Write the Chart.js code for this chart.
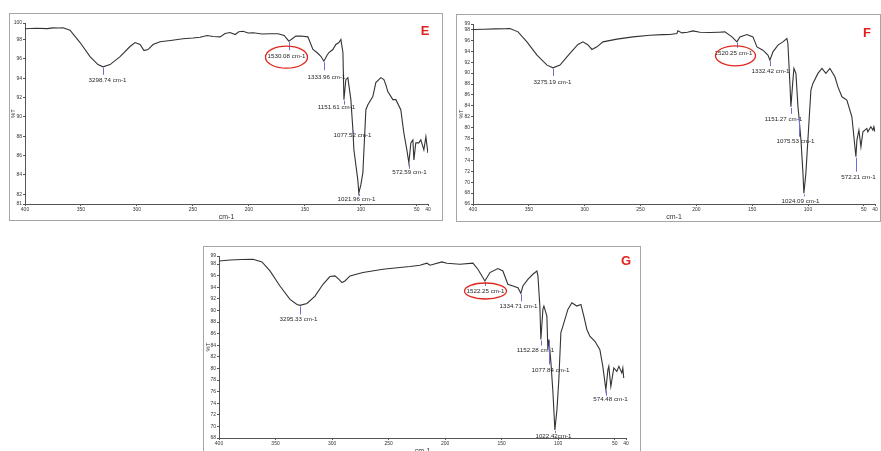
<!DOCTYPE html>
<html>
<head>
<meta charset="utf-8">
<script src="https://cdn.jsdelivr.net/npm/chart.js@4.4.0/dist/chart.umd.min.js"></script>
<style>
body { margin:0; background:#fff; width:881px; height:451px; overflow:hidden; position:relative; font-family:"Liberation Sans", Arial, sans-serif; }
.panel { position:absolute; border:1px solid #a6a6a6; box-sizing:border-box; }
.panel canvas { position:absolute; left:0; top:0; }
</style>
</head>
<body>
<div class="panel" style="left:9px;top:13px;width:434px;height:208px"><canvas id="chartE" width="432" height="207"></canvas></div>
<div class="panel" style="left:456px;top:14px;width:425px;height:208px"><canvas id="chartF" width="423" height="207"></canvas></div>
<div class="panel" style="left:203px;top:246px;width:438px;height:215px"><canvas id="chartG" width="436" height="213"></canvas></div>
<script>
// x axis (cm-1), shared by the three spectra
var xTickValues = [4000, 3500, 3000, 2500, 2000, 1500, 1000, 500, 400];
var xTickLabels = ['400', '350', '300', '250', '200', '150', '100', '50', '40'];

// sample E
var wnE = [4000,3900,3800,3750,3700,3660,3598,3508,3419,3348,3303,3240,3151,3062,3017,2972,2937,2901,2856,2794,2700,2588,2500,2436,2373,2320,2257,2213,2168,2123,2090,2052,2007,1962,1882,1810,1739,1685,1643,1580,1535,1473,1428,1392,1357,1330,1303,1285,1250,1223,1196,1178,1160,1151,1134,1116,1089,1071,1062,1027,1018,1000,982,955,937,893,866,821,794,777,759,714,687,643,616,589,571,553,535,526,509,482,464,437,419,401];
var trE = [99.10,99.15,99.12,99.20,99.18,99.21,98.96,97.68,96.23,95.40,95.17,95.40,96.23,97.27,97.68,97.48,96.85,96.96,97.48,97.76,97.90,98.07,98.15,98.23,98.41,98.30,98.27,98.62,98.72,98.51,98.80,98.85,98.67,98.69,98.56,98.59,98.59,98.41,97.82,98.34,98.36,98.27,96.96,96.65,96.26,95.75,96.34,96.65,96.96,97.48,97.68,97.99,96.65,91.78,93.85,94.06,91.78,88.67,86.60,83.49,82.14,82.97,84.21,90.74,91.26,92.09,93.54,94.06,93.85,93.33,92.61,91.78,91.78,90.74,88.36,86.60,85.25,87.32,87.63,85.56,87.32,87.32,87.63,86.60,87.94,86.28];
var yTicksE = [81, 82, 84, 86, 88, 90, 92, 94, 96, 98, 99.7];
var yLabelsE = ['81', '82', '84', '86', '88', '90', '92', '94', '96', '98', '100'];
var peakWnE = [3303, 1643, 1330, 1151, 1071, 1018, 571];
var peakTrE = [95.17, 97.82, 95.75, 91.78, 88.67, 82.14, 85.25];
var peakTextE = ['3298.74 cm-1', '1530.08 cm-1', '1333.96 cm-1', '1151.61 cm-1', '1077.52 cm-1', '1021.96 cm-1', '572.59 cm-1'];

// sample F
var wnF = [4000,3900,3800,3700,3669,3597,3517,3427,3337,3284,3221,3132,3060,3015,2970,2935,2890,2836,2711,2568,2415,2300,2236,2174,2165,2129,2080,2030,1968,1878,1800,1744,1681,1636,1610,1547,1493,1457,1404,1359,1341,1314,1269,1225,1189,1180,1162,1153,1135,1126,1108,1090,1081,1063,1045,1037,1019,1001,974,956,911,875,840,804,759,732,696,652,607,598,571,562,544,526,508,473,464,437,419,410,400];
var trF = [98.00,98.05,98.10,98.15,98.18,97.56,95.73,93.29,91.46,90.96,91.46,93.60,95.25,95.73,95.15,94.33,94.81,95.73,96.22,96.64,96.95,97.05,97.08,97.26,97.74,97.37,97.50,97.74,97.50,97.45,97.50,97.56,96.64,95.73,96.64,97.08,96.64,94.81,94.20,93.29,92.37,93.89,95.12,95.73,96.35,95.43,88.11,83.82,88.71,90.85,89.94,83.82,81.99,77.72,71.62,67.96,71.62,77.72,86.88,88.11,89.94,90.85,89.94,90.85,89.32,87.48,85.65,85.05,81.99,80.16,74.66,77.72,79.55,76.49,79.24,79.86,79.24,80.16,79.55,80.16,79.24];
var yTicksF = [66, 68, 70, 72, 74, 76, 78, 80, 82, 84, 86, 88, 90, 92, 94, 96, 98, 99];
var yLabelsF = ['66', '68', '70', '72', '74', '76', '78', '80', '82', '84', '86', '88', '90', '92', '94', '96', '98', '99'];
var peakWnF = [3284, 1636, 1341, 1153, 1081, 1037, 571];
var peakTrF = [90.96, 95.73, 92.37, 83.82, 81.99, 67.96, 74.66];
var peakTextF = ['3275.19 cm-1', '1520.25 cm-1', '1332.42 cm-1', '1151.27 cm-1', '1075.53 cm-1', '1024.09 cm-1', '572.21 cm-1'];

// sample G
var wnG = [4000,3900,3800,3699,3620,3549,3461,3372,3310,3284,3222,3151,3080,3019,2974,2939,2912,2886,2841,2727,2550,2400,2311,2223,2161,2134,2028,1984,1869,1754,1710,1648,1604,1533,1489,1445,1400,1356,1330,1312,1268,1224,1188,1179,1162,1153,1135,1126,1100,1091,1082,1064,1046,1029,1011,994,976,958,914,879,835,799,773,746,720,675,631,605,578,560,552,534,508,481,463,437,428,420];
var trG = [98.55,98.70,98.80,98.85,98.38,96.82,94.22,91.92,91.05,90.88,91.22,92.49,94.52,95.85,95.96,95.38,94.81,95.09,95.96,96.54,97.12,97.41,97.58,97.81,98.16,97.81,98.38,98.16,97.98,98.16,97.12,95.09,96.54,97.24,96.82,94.52,94.22,93.94,92.96,94.22,95.38,96.25,96.82,95.96,90.76,85.00,90.18,90.76,89.02,83.25,85.00,81.00,75.80,69.39,72.85,78.05,86.20,87.29,90.18,91.34,90.76,91.05,89.02,86.72,85.56,84.69,83.25,80.36,76.32,79.79,80.36,76.89,80.08,79.49,80.36,79.21,80.08,78.35];
var yTicksG = [68, 70, 72, 74, 76, 78, 80, 82, 84, 86, 88, 90, 92, 94, 96, 98, 99.4];
var yLabelsG = ['68', '70', '72', '74', '76', '78', '80', '82', '84', '86', '88', '90', '92', '94', '96', '98', '99'];
var peakWnG = [3284, 1648, 1330, 1153, 1082, 1029, 578];
var peakTrG = [90.88, 95.09, 92.96, 85.00, 85.00, 69.39, 76.32];
var peakTextG = ['3295.33 cm-1', '1522.25 cm-1', '1334.71 cm-1', '1152.28 cm-1', '1077.84 cm-1', '1022.42cm-1', '574.48 cm-1'];

function spectrumChart(canvasID, wn, tr, yTicks, yLabels, pkWn, pkTr, pkText, look) {
    var pts = wn.map(function(w, i) { return {x: w, y: tr[i]}; });

    var peakLabels = {
        id: 'peakLabels',
        afterDatasetsDraw: function(chart) {
            var ctx = chart.ctx, xs = chart.scales.x, ys = chart.scales.y;
            ctx.save();
            ctx.textAlign = 'center';
            ctx.textBaseline = 'middle';
            for (var i = 0; i < pkWn.length; i++) {
                var px = Math.round(xs.getPixelForValue(pkWn[i])) + 0.5;
                var py = ys.getPixelForValue(pkTr[i]);
                var o = look.offsets[i];
                ctx.strokeStyle = '#6d6dd8';
                ctx.lineWidth = 1;
                ctx.beginPath();
                ctx.moveTo(px, py + 1);
                ctx.lineTo(px, py + o[2]);
                ctx.stroke();
                ctx.font = '6.2px "Liberation Sans", Arial, sans-serif';
                ctx.fillStyle = '#262626';
                ctx.fillText(pkText[i], px + o[0], py + o[1]);
                if (i === look.circled) {
                    var e = look.ellipse;
                    ctx.strokeStyle = '#e0281f';
                    ctx.lineWidth = 1.3;
                    ctx.beginPath();
                    ctx.ellipse(px + e[0], py + e[1], e[2], e[3], 0, 0, Math.PI * 2);
                    ctx.stroke();
                }
            }
            ctx.font = 'bold 13px "Liberation Sans", Arial, sans-serif';
            ctx.fillStyle = '#e3201b';
            ctx.fillText(look.letter, look.letterPos[0], look.letterPos[1]);
            ctx.restore();
        }
    };

    return new Chart(document.getElementById(canvasID), {
        type: 'line',
        data: {
            datasets: [{
                data: pts,
                borderColor: '#333333',
                borderWidth: 1.1,
                pointRadius: 0,
                tension: 0,
                fill: false
            }]
        },
        options: {
            responsive: false,
            animation: false,
            devicePixelRatio: 1,
            layout: { padding: look.padding },
            plugins: { legend: { display: false }, tooltip: { enabled: false } },
            scales: {
                x: {
                    type: 'linear',
                    reverse: true,
                    min: 400,
                    max: 4000,
                    afterBuildTicks: function(s) { s.ticks = xTickValues.map(function(v) { return {value: v}; }); },
                    afterFit: function(s) { s.height = look.xHeight; },
                    ticks: {
                        autoSkip: false, maxRotation: 0, padding: 1,
                        font: { size: 5 }, color: '#333',
                        callback: function(v, i) { return xTickLabels[i]; }
                    },
                    grid: { drawOnChartArea: false, tickLength: 2, color: '#555' },
                    border: { color: '#555' },
                    title: { display: true, text: 'cm-1', font: { size: 7 }, color: '#333', padding: 0 }
                },
                y: {
                    min: yTicks[0],
                    max: yTicks[yTicks.length - 1],
                    afterBuildTicks: function(s) { s.ticks = yTicks.map(function(v) { return {value: v}; }); },
                    afterFit: function(s) { s.width = look.yWidth; },
                    ticks: {
                        autoSkip: false, padding: 1,
                        font: { size: 5 }, color: '#333',
                        callback: function(v, i) { return yLabels[i]; }
                    },
                    grid: { drawOnChartArea: false, tickLength: 2, color: '#555' },
                    border: { color: '#555' },
                    title: { display: true, text: '%T', font: { size: 6 }, color: '#333', padding: 0 }
                }
            }
        },
        plugins: [peakLabels]
    });
}

spectrumChart('chartE', wnE, trE, yTicksE, yLabelsE, peakWnE, peakTrE, peakTextE, {
    padding: { left: 0, right: 14, top: 9, bottom: 0 },
    yWidth: 15, xHeight: 17,
    offsets: [[4, 13, 8], [-3, 15, 9], [2, 16, 9], [-8, 8, 5], [-1, 6, 4], [-3, 6, 3], [0, 9, 6]],
    circled: 1, ellipse: [-3, 16, 21, 11],
    letter: 'E', letterPos: [415, 17]
});

spectrumChart('chartF', wnF, trF, yTicksF, yLabelsF, peakWnF, peakTrF, peakTextF, {
    padding: { left: 1, right: 5, top: 9, bottom: 1 },
    yWidth: 15, xHeight: 17,
    offsets: [[-1, 14, 8], [-4, 11, 6], [0, 11, 6], [-8, 12, 7], [-4, 25, 20], [-4, 8, 3], [2, 21, 15]],
    circled: 1, ellipse: [-2, 14, 20, 10],
    letter: 'F', letterPos: [410, 18]
});

spectrumChart('chartG', wnG, trG, yTicksG, yLabelsG, peakWnG, peakTrG, peakTextG, {
    padding: { left: 1, right: 14, top: 9, bottom: 5 },
    yWidth: 14, xHeight: 17,
    offsets: [[-2, 14, 9], [0, 10, 5], [-3, 13, 8], [-6, 11, 6], [1, 31, 25], [-2, 6, 3], [4, 10, 6]],
    circled: 1, ellipse: [0, 10, 21, 8],
    letter: 'G', letterPos: [422, 14]
});
</script>
</body>
</html>
